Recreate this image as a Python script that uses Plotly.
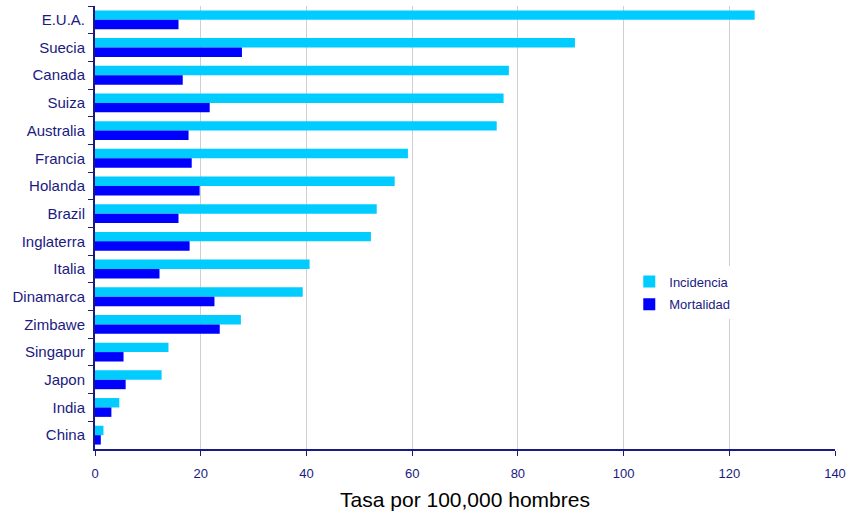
import plotly.graph_objects as go

# Countries, top to bottom
paises = ["E.U.A.", "Suecia", "Canada", "Suiza", "Australia", "Francia", "Holanda",
          "Brazil", "Inglaterra", "Italia", "Dinamarca", "Zimbawe", "Singapur",
          "Japon", "India", "China"]

# Rates per 100,000 men
incidencia = [124.8, 90.8, 78.3, 77.3, 76.0, 59.2, 56.7, 53.3, 52.2, 40.6, 39.3,
              27.6, 13.9, 12.6, 4.6, 1.6]
mortalidad = [15.8, 27.8, 16.6, 21.7, 17.7, 18.3, 19.8, 15.8, 17.9, 12.2, 22.6,
              23.6, 5.4, 5.8, 3.1, 1.1]

x_ticks = [0, 20, 40, 60, 80, 100, 120, 140]

navy = "#1a1a80"
font_family = "Liberation Sans, Arial, sans-serif"

fig = go.Figure()
fig.add_trace(go.Bar(y=paises, x=incidencia, orientation="h", name="Incidencia",
                     legendgroup="inc",
                     marker=dict(color="#00CCFF", line=dict(width=0))))
fig.add_trace(go.Bar(y=paises, x=mortalidad, orientation="h", name="Mortalidad",
                     legendgroup="mort",
                     marker=dict(color="#0000FF", line=dict(width=0))))

fig.update_layout(
    width=850, height=512,
    margin=dict(l=95, r=15, t=6, b=63),
    paper_bgcolor="white", plot_bgcolor="white",
    barmode="group", bargap=0.32, bargroupgap=0,
    font=dict(family=font_family, color=navy),
    showlegend=True,
    legend=dict(x=0.722, y=0.412, xanchor="left", yanchor="top",
                bgcolor="white", borderwidth=0, traceorder="grouped",
                font=dict(size=13, color=navy, family=font_family),
                tracegroupgap=3, itemwidth=30),
    xaxis=dict(range=[0, 140], tickvals=x_ticks, ticks="outside", ticklen=5,
               tickcolor=navy, tickfont=dict(size=13, color=navy),
               ticklabelstandoff=6, automargin=False,
               showline=True, linecolor=navy, linewidth=2,
               showgrid=True, gridcolor="#cfcfcf", gridwidth=1,
               zeroline=False,
               title=dict(text="Tasa por 100,000 hombres",
                          font=dict(size=21, color="black"), standoff=13)),
    yaxis=dict(autorange="reversed", type="category", ticks="outside",
               tickson="boundaries", ticklen=5, tickcolor=navy,
               tickfont=dict(size=15, color=navy), ticklabelstandoff=5,
               automargin=False,
               showline=True, linecolor=navy, linewidth=2,
               showgrid=False, zeroline=False),
)

fig.write_html("out.html")
